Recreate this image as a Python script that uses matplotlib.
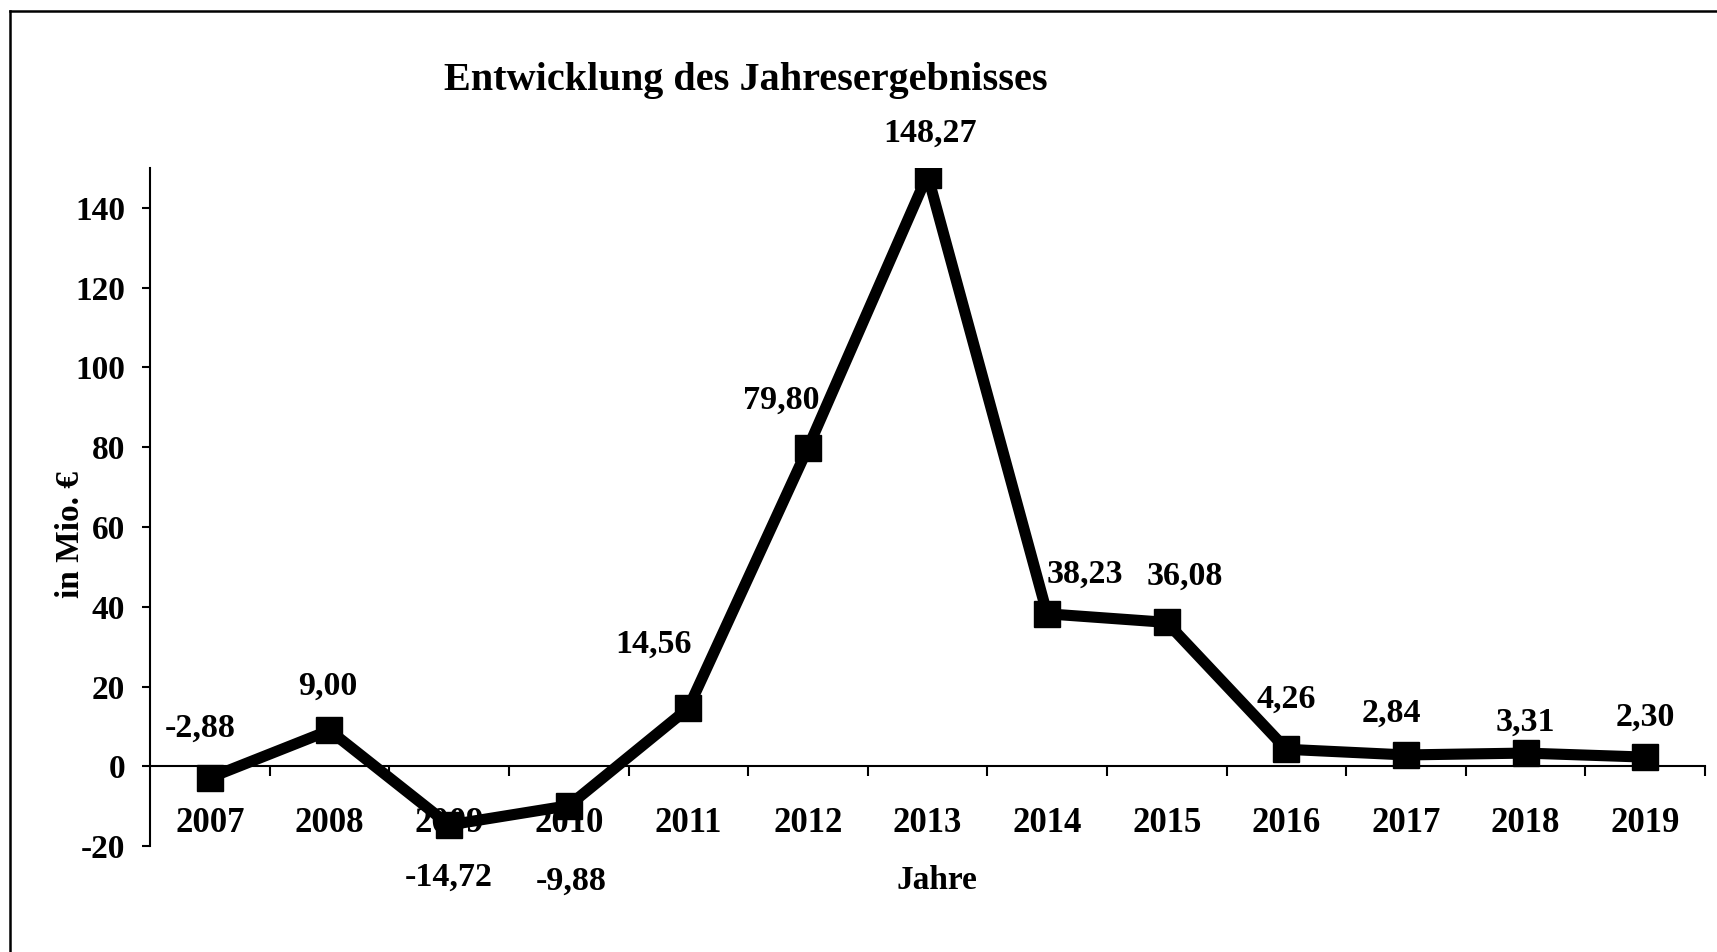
import numpy as np
import matplotlib.pyplot as plt
from matplotlib.lines import Line2D
from matplotlib.ticker import FixedLocator

# Data
years = ["2007", "2008", "2009", "2010", "2011", "2012", "2013",
         "2014", "2015", "2016", "2017", "2018", "2019"]
values = [-2.88, 9.00, -14.72, -9.88, 14.56, 79.80, 148.27,
          38.23, 36.08, 4.26, 2.84, 3.31, 2.30]
labels = ["-2,88", "9,00", "-14,72", "-9,88", "14,56", "79,80", "148,27",
          "38,23", "36,08", "4,26", "2,84", "3,31", "2,30"]
# label offsets in pixels (dx, dy)
offsets = [(-10, 50), (-2, 44), (0, -52), (2, -76), (-35, 64), (-27, 48), (3, 42),
           (38, 40), (18, 46), (0, 50), (-15, 42), (0, 31), (0, 40)]

plt.rcParams['font.family'] = ['Liberation Serif', 'DejaVu Serif']
plt.rcParams['font.weight'] = 'bold'
plt.rcParams['axes.unicode_minus'] = False

fig = plt.figure(figsize=(17.17, 9.52), dpi=100)
ax = fig.add_axes([0.0874, 0.1113, 0.9056, 0.7122])

x = np.arange(len(years))
ax.plot(x, values, color='black', linewidth=8, marker='s', markersize=19,
        solid_joinstyle='miter')

for xi, v, lab, (dx, dy) in zip(x, values, labels, offsets):
    ax.annotate(lab, (xi, v), xytext=(dx, dy), textcoords='offset pixels',
                ha='center', va='center', fontsize=24.5, fontweight='bold')

ax.set_xlim(-0.5, len(years) - 0.5)
ax.set_ylim(-20, 150)

ax.spines['top'].set_visible(False)
ax.spines['right'].set_visible(False)
ax.spines['bottom'].set_position(('data', 0))
ax.spines['bottom'].set_linewidth(1.5)
ax.spines['left'].set_linewidth(1.5)

ax.set_yticks(np.arange(-20, 141, 20))
ax.tick_params(axis='y', length=6, width=1.5, pad=12, labelsize=24)
for t in ax.get_yticklabels():
    t.set_fontweight('bold')

ax.set_xticks(x)
ax.set_xticklabels(years, fontsize=25, fontweight='bold')
ax.tick_params(axis='x', which='major', length=0, pad=29)
ax.xaxis.set_minor_locator(FixedLocator(np.arange(0.5, len(years), 1.0)))
ax.tick_params(axis='x', which='minor', length=7, width=1.5, direction='out')

fig.text(0.4345, 0.915, "Entwicklung des Jahresergebnisses", ha='center', va='center',
         fontsize=29, fontweight='bold')
fig.text(0.041, 0.439, "in Mio. €", rotation=90, ha='center', va='center',
         fontsize=24, fontweight='bold')
fig.text(0.5457, 0.075, "Jahre", ha='center', va='center',
         fontsize=24, fontweight='bold')

# partial frame (top and left)
fig.add_artist(Line2D([10 / 1717, 1.0], [1 - 11 / 952, 1 - 11 / 952],
                      transform=fig.transFigure, color='black', linewidth=1.8))
fig.add_artist(Line2D([10 / 1717, 10 / 1717], [0.0, 1 - 11 / 952],
                      transform=fig.transFigure, color='black', linewidth=1.8))

fig.savefig("out.png", dpi=100)
